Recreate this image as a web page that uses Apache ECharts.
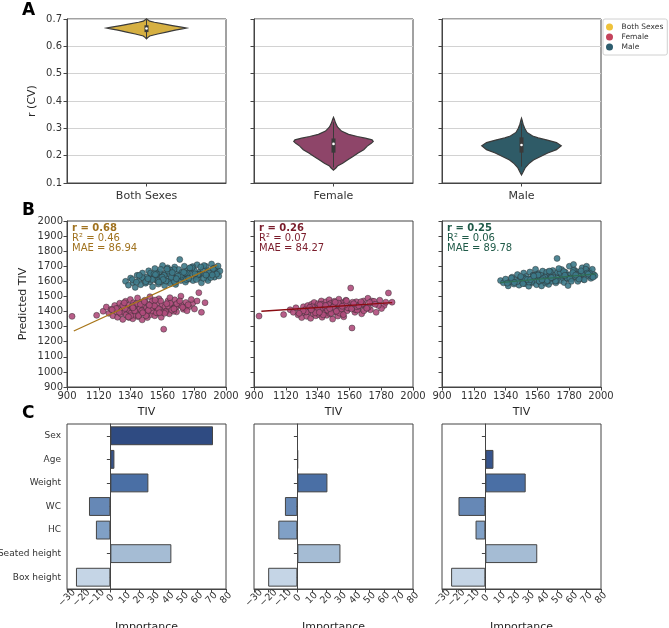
<!DOCTYPE html>
<html>
<head>
<meta charset="utf-8">
<title>TIV prediction</title>
<script src="https://cdn.jsdelivr.net/npm/echarts@6/dist/echarts.min.js"></script>
<style>
  html, body { margin: 0; padding: 0; background: #fff; }
  #chart { width: 669px; height: 628px; }
</style>
</head>
<body>
<div id="chart"></div>
<script>
// groups (columns)
const groups = ['Both Sexes', 'Female', 'Male']

// A - r (CV) violins: [r, relative width]
const violinBothSexes = [[0.627, 0], [0.632, 0.03], [0.638, 0.08], [0.645, 0.28], [0.652, 0.5], [0.659, 0.72], [0.664, 0.9], [0.667, 1.0], [0.670, 0.88], [0.676, 0.65], [0.682, 0.42], [0.688, 0.2], [0.692, 0.08], [0.697, 0.03], [0.701, 0]]
const violinFemale = [[0.147, 0], [0.155, 0.06], [0.162, 0.1], [0.172, 0.23], [0.185, 0.36], [0.196, 0.48], [0.210, 0.62], [0.222, 0.76], [0.235, 0.85], [0.245, 0.95], [0.252, 1.0], [0.258, 0.97], [0.264, 0.8], [0.270, 0.6], [0.278, 0.38], [0.290, 0.2], [0.305, 0.1], [0.320, 0.05], [0.333, 0.02], [0.340, 0]]
const violinMale = [[0.129, 0], [0.140, 0.04], [0.155, 0.09], [0.170, 0.18], [0.184, 0.3], [0.197, 0.48], [0.210, 0.66], [0.222, 0.88], [0.236, 1.0], [0.248, 0.88], [0.257, 0.65], [0.265, 0.42], [0.272, 0.28], [0.285, 0.14], [0.300, 0.08], [0.315, 0.04], [0.330, 0.015], [0.337, 0]]
// [whisker low, q1, median, q3, whisker high]
const violinBoxes = [
  [0.630, 0.652, 0.665, 0.677, 0.698],
  [0.157, 0.211, 0.243, 0.263, 0.322],
  [0.160, 0.211, 0.239, 0.267, 0.318]
]

// B - true TIV vs predicted TIV
const femaleTIV = [
  935, 1105, 1150, 1172, 1190, 1205, 1218, 1230, 1242, 1250,
  1258, 1265, 1272, 1280, 1286, 1292, 1298, 1305, 1310, 1316,
  1322, 1328, 1333, 1338, 1344, 1350, 1355, 1360, 1366, 1371,
  1376, 1382, 1388, 1393, 1398, 1404, 1410, 1415, 1420, 1426,
  1432, 1438, 1444, 1450, 1456, 1462, 1468, 1474, 1480, 1487,
  1494, 1500, 1507, 1514, 1521, 1528, 1536, 1544, 1552, 1560,
  1569, 1578, 1588, 1598, 1608, 1620, 1632, 1645, 1658, 1672,
  1688, 1705, 1722, 1745, 1770, 1800, 1812, 1830, 1855, 1782,
  1262, 1302, 1341, 1379, 1417, 1453, 1491, 1526, 1563, 1601,
  1638, 1676, 1715, 1286, 1325, 1368, 1408, 1447, 1484, 1518,
  1548, 1582, 1615, 1650, 1690, 1730, 1760, 1240, 1352, 1462,
  1532, 1575, 1612, 1660, 1700, 1395, 1435, 1505, 1540, 1625,
  1212, 1296, 1356, 1424, 1470, 1510, 1590, 1640, 1680, 1738
]
const femalePredBoth = [
  1368, 1375, 1402, 1430, 1388, 1415, 1372, 1440, 1398, 1362,
  1425, 1455, 1385, 1410, 1348, 1435, 1395, 1468, 1378, 1420,
  1442, 1360, 1405, 1480, 1390, 1428, 1352, 1458, 1412, 1375,
  1445, 1400, 1490, 1365, 1430, 1418, 1385, 1462, 1345, 1440,
  1408, 1475, 1392, 1425, 1360, 1450, 1415, 1498, 1380, 1438,
  1402, 1465, 1372, 1428, 1452, 1390, 1485, 1418, 1362, 1445,
  1283, 1432, 1405, 1470, 1385, 1448, 1420, 1478, 1398, 1440,
  1502, 1415, 1460, 1432, 1455, 1470, 1525, 1395, 1459, 1417,
  1395, 1420, 1372, 1452, 1405, 1382, 1470, 1412, 1395, 1436,
  1402, 1462, 1425, 1440, 1365, 1405, 1448, 1372, 1425, 1392,
  1470, 1398, 1455, 1428, 1442, 1405, 1480, 1420, 1438, 1408,
  1418, 1388, 1492, 1452, 1428, 1372, 1465, 1438, 1392, 1410,
  1412, 1458, 1425, 1392, 1442, 1476, 1452, 1418, 1470, 1445
]
const femalePredFemale = [
  1370, 1380, 1412, 1395, 1425, 1378, 1405, 1360, 1432, 1392,
  1415, 1368, 1440, 1398, 1420, 1355, 1448, 1402, 1385, 1460,
  1410, 1372, 1435, 1395, 1452, 1380, 1425, 1408, 1470, 1362,
  1418, 1445, 1390, 1428, 1465, 1375, 1440, 1402, 1478, 1385,
  1455, 1412, 1350, 1438, 1468, 1395, 1425, 1448, 1370, 1482,
  1415, 1442, 1398, 1460, 1365, 1432, 1475, 1405, 1450, 1422,
  1556, 1291, 1438, 1395, 1465, 1418, 1448, 1385, 1470, 1430,
  1488, 1412, 1455, 1395, 1475, 1440, 1462, 1523, 1462, 1420,
  1398, 1432, 1420, 1378, 1445, 1415, 1390, 1458, 1428, 1412,
  1442, 1420, 1470, 1428, 1392, 1448, 1410, 1430, 1455, 1380,
  1425, 1462, 1410, 1452, 1428, 1468, 1440, 1405, 1395, 1462,
  1445, 1418, 1432, 1405, 1460, 1440, 1388, 1418, 1472, 1438,
  1388, 1412, 1445, 1420, 1402, 1435, 1452, 1465, 1422, 1448
]
const maleTIV = [
  1305, 1325, 1340, 1358, 1372, 1385, 1398, 1410, 1422, 1433,
  1444, 1455, 1465, 1474, 1483, 1492, 1500, 1508, 1516, 1524,
  1532, 1540, 1547, 1554, 1561, 1568, 1575, 1582, 1589, 1596,
  1603, 1610, 1617, 1624, 1631, 1638, 1645, 1652, 1659, 1666,
  1673, 1680, 1688, 1696, 1704, 1712, 1720, 1728, 1736, 1745,
  1754, 1763, 1772, 1781, 1790, 1800, 1810, 1820, 1830, 1840,
  1850, 1860, 1870, 1880, 1890, 1900, 1910, 1920, 1930, 1940,
  1950, 1958, 1465, 1520, 1585, 1640, 1700, 1760, 1815, 1875,
  1420, 1478, 1530, 1572, 1612, 1650, 1692, 1732, 1770, 1808,
  1845, 1885, 1920, 1352, 1445, 1502, 1558, 1600, 1642, 1685,
  1725, 1765, 1805, 1848, 1895, 1935, 1490, 1548, 1622, 1718,
  1380, 1460, 1512, 1565, 1628, 1668, 1742, 1785, 1825, 1905,
  1400, 1535, 1592, 1656, 1708, 1750, 1795, 1862, 1912, 1945
]
const malePredBoth = [
  1600, 1575, 1622, 1590, 1560, 1640, 1605, 1578, 1655, 1615,
  1588, 1630, 1670, 1598, 1645, 1565, 1620, 1685, 1608, 1640,
  1582, 1662, 1625, 1598, 1705, 1640, 1572, 1655, 1618, 1690,
  1600, 1648, 1585, 1672, 1630, 1610, 1695, 1580, 1650, 1622,
  1678, 1745, 1605, 1660, 1635, 1700, 1595, 1668, 1642, 1615,
  1688, 1650, 1605, 1672, 1635, 1710, 1625, 1662, 1590, 1680,
  1645, 1700, 1618, 1672, 1640, 1715, 1655, 1628, 1690, 1660,
  1635, 1668, 1612, 1650, 1602, 1678, 1625, 1690, 1648, 1605,
  1625, 1655, 1605, 1640, 1675, 1595, 1632, 1655, 1698, 1642,
  1620, 1655, 1688, 1612, 1598, 1650, 1628, 1668, 1598, 1640,
  1612, 1690, 1645, 1705, 1625, 1648, 1612, 1680, 1628, 1655,
  1595, 1618, 1645, 1612, 1658, 1635, 1620, 1650, 1695, 1642,
  1640, 1595, 1682, 1618, 1660, 1690, 1612, 1642, 1685, 1702
]
const malePredMale = [
  1605, 1590, 1615, 1570, 1598, 1628, 1582, 1610, 1645, 1575,
  1620, 1598, 1655, 1585, 1632, 1608, 1568, 1662, 1615, 1590,
  1640, 1605, 1680, 1578, 1625, 1652, 1598, 1618, 1570, 1668,
  1610, 1635, 1588, 1660, 1612, 1580, 1648, 1625, 1600, 1672,
  1638, 1612, 1590, 1752, 1630, 1655, 1605, 1678, 1625, 1592,
  1660, 1640, 1572, 1700, 1645, 1618, 1712, 1632, 1665, 1600,
  1650, 1625, 1690, 1612, 1658, 1700, 1635, 1668, 1620, 1680,
  1645, 1638, 1622, 1598, 1640, 1612, 1660, 1628, 1675, 1650,
  1598, 1615, 1640, 1602, 1628, 1662, 1605, 1640, 1618, 1672,
  1635, 1610, 1655, 1588, 1632, 1595, 1645, 1620, 1668, 1602,
  1648, 1622, 1658, 1615, 1680, 1632, 1612, 1640, 1598, 1660,
  1622, 1585, 1612, 1642, 1605, 1628, 1665, 1618, 1642, 1655,
  1592, 1635, 1610, 1625, 1685, 1640, 1600, 1670, 1648, 1628
]
// regression fit end points [TIV, predicted]
const fitBoth = [[947, 1271], [1938, 1708]]
const fitFemale = [[951, 1402], [1856, 1459]]
const fitMale = [[1304, 1591], [1965, 1649]]
const statR = [0.68, 0.26, 0.25]
const statR2 = [0.46, 0.07, 0.06]
const statMAE = [86.94, 84.27, 89.78]

// C - feature importance
const features = ['Sex', 'Age', 'Weight', 'WC', 'HC', 'Seated height', 'Box height']
const importanceBoth = [71.0, 2.8, 26.3, -14.8, -10.0, 42.2, -23.8]
const importanceFemale = [null, 0.4, 20.8, -8.6, -13.2, 29.8, -20.2]
const importanceMale = [null, 5.6, 27.9, -18.6, -6.8, 35.9, -23.7]
const importanceTicks = [-30, -20, -10, 0, 10, 20, 30, 40, 50, 60, 70, 80]

// styling
const legendColors = ['#efc23a', '#c4435c', '#2d5d6e']
const violinColors = ['#d6b042', '#8e4569', '#2f5b67']
const textColors = ['#a0721f', '#7a1c2b', '#1f5a48']
const fitColors = ['#a8761a', '#8a0c12', '#2f6e55']
const featureColors = ['#2f4b82', '#36548c', '#4a6fa5', '#6688b6', '#80a0c6', '#a5bcd4', '#c5d5e6']
const femaleColor = '#b04c7c'
const maleColor = '#3d7a8a'
const ink = '#333'
const font = 'DejaVu Sans'

const colLeft = [67, 254, 442]
const colWidth = 159
const rows = [{ top: 19, height: 164 }, { top: 221, height: 166 }, { top: 424, height: 165 }]

const minus = v => String(v).replace('-', '\u2212')
const plain = v => String(v)

const grids = []
const xAxes = []
const yAxes = []
rows.forEach(row => {
  colLeft.forEach(left => {
    grids.push({
      left: left, top: row.top, width: colWidth, height: row.height, outerBoundsMode: 'none',
      show: true, borderColor: '#444', borderWidth: 1, backgroundColor: 'transparent'
    })
  })
})
// extra grid on top of C/first column that only carries the feature names
grids.push({ left: colLeft[0], top: rows[2].top, width: colWidth, height: rows[2].height, outerBoundsMode: 'none', show: false })

const tick = { show: true, length: 3.5, lineStyle: { color: '#444' }}
const line = { show: true, lineStyle: { color: '#444' }}
const lbl = { color: ink, fontSize: 10, fontFamily: font, showMinLabel: true, showMaxLabel: true, hideOverlap: false }
const nameStyle = { color: '#262626', fontSize: 11, fontFamily: font }

for (let c = 0; c < 3; c++) {
  // A
  xAxes.push({
    gridIndex: c, type: 'category', data: [groups[c]],
    axisLine: line, axisTick: Object.assign({ alignWithLabel: true }, tick),
    axisLabel: Object.assign({}, lbl, { fontSize: 11, margin: 8 })
  })
  yAxes.push({
    gridIndex: c, type: 'value', min: 0.1, max: 0.7, interval: 0.1,
    name: c === 0 ? 'r (CV)' : '', nameLocation: 'middle', nameGap: 29, nameTextStyle: nameStyle,
    axisLine: line, axisTick: tick,
    axisLabel: Object.assign({}, lbl, { show: c === 0, margin: 5, formatter: v => v.toFixed(1) }),
    splitLine: { show: true, lineStyle: { color: '#d2d2d2', width: 1 }}
  })
}
for (let c = 0; c < 3; c++) {
  // B
  xAxes.push({
    gridIndex: 3 + c, type: 'value', min: 900, max: 2000, interval: 220,
    name: 'TIV', nameLocation: 'middle', nameGap: 20, nameTextStyle: nameStyle,
    axisLine: line, axisTick: tick, splitLine: { show: false },
    axisLabel: Object.assign({}, lbl, { margin: 4, formatter: plain })
  })
  yAxes.push({
    gridIndex: 3 + c, type: 'value', min: 900, max: 2000, interval: 100,
    name: c === 0 ? 'Predicted TIV' : '', nameLocation: 'middle', nameGap: 38, nameTextStyle: nameStyle,
    axisLine: line, axisTick: tick, splitLine: { show: false },
    axisLabel: Object.assign({}, lbl, { show: c === 0, margin: 4, formatter: plain })
  })
}
for (let c = 0; c < 3; c++) {
  // C
  xAxes.push({
    gridIndex: 6 + c, type: 'value', min: -30, max: 80, interval: 10,
    name: 'Importance', nameLocation: 'middle', nameGap: 33, nameMoveOverlap: false, nameTextStyle: nameStyle,
    axisLine: line, axisTick: Object.assign({ customValues: importanceTicks }, tick), splitLine: { show: false },
    axisLabel: Object.assign({}, lbl, {
      customValues: importanceTicks, fontSize: 9.5, rotate: 45, align: 'center', verticalAlign: 'middle', margin: 9, formatter: minus
    })
  })
  yAxes.push({
    gridIndex: 6 + c, type: 'category', data: features, inverse: true,
    axisLine: line, axisTick: Object.assign({ alignWithLabel: true }, tick), splitLine: { show: false },
    axisLabel: { show: false }
  })
}
// feature names for panel C
xAxes.push({ gridIndex: 9, type: 'value', min: -30, max: 80, show: false })
yAxes.push({
  gridIndex: 9, type: 'category', data: features, inverse: true,
  axisLine: { show: false }, axisTick: { show: false }, splitLine: { show: false },
  axisLabel: Object.assign({}, lbl, { fontSize: 9, margin: 6 })
})

const violinProfiles = [violinBothSexes, violinFemale, violinMale]
function violinSeries(c) {
  return {
    name: groups[c],
    type: 'custom',
    xAxisIndex: c,
    yAxisIndex: c,
    itemStyle: { color: violinColors[c] },
    data: [[0]],
    renderItem: function(params, api) {
      const cx = api.coord([0, 0.4])[0]
      const half = api.size([1, 0])[0] * 0.25
      const prof = violinProfiles[c]
      const right = prof.map(p => [cx + p[1] * half, api.coord([0, p[0]])[1]])
      const left = prof.slice().reverse().map(p => [cx - p[1] * half, api.coord([0, p[0]])[1]])
      const box = violinBoxes[c]
      const yLo = api.coord([0, box[0]])[1]
      const yQ1 = api.coord([0, box[1]])[1]
      const yMed = api.coord([0, box[2]])[1]
      const yQ3 = api.coord([0, box[3]])[1]
      const yHi = api.coord([0, box[4]])[1]
      return {
        type: 'group',
        children: [
          {
            type: 'polygon',
            shape: { points: right.concat(left) },
            style: { fill: violinColors[c], stroke: '#3a3a3a', lineWidth: 1.2 }
          },
          {
            type: 'line',
            shape: { x1: cx, y1: yLo, x2: cx, y2: yHi },
            style: { stroke: '#3a3a3a', lineWidth: 1 }
          },
          {
            type: 'rect',
            shape: { x: cx - 2, y: yQ3, width: 4, height: yQ1 - yQ3 },
            style: { fill: '#3a3a3a' }
          },
          {
            type: 'circle',
            shape: { cx: cx, cy: yMed, r: 1.3 },
            style: { fill: '#fff' }
          }
        ]
      }
    }
  }
}

function scatterSeries(name, grid, xs, ys, color) {
  return {
    name: name,
    type: 'scatter',
    xAxisIndex: grid,
    yAxisIndex: grid,
    symbolSize: 6,
    z: 2,
    itemStyle: { color: color, borderColor: '#2a2a2a', borderWidth: 0.5, opacity: 0.9 },
    data: xs.map((x, i) => [x, ys[i]])
  }
}

function fitSeries(grid, pts, color) {
  return {
    name: 'fit' + grid,
    type: 'line',
    xAxisIndex: grid,
    yAxisIndex: grid,
    symbol: 'none',
    z: 4,
    lineStyle: { color: color, width: 1.3 },
    data: pts
  }
}

function barSeries(c, values) {
  return {
    name: 'importance' + c,
    type: 'bar',
    xAxisIndex: 6 + c,
    yAxisIndex: 6 + c,
    barWidth: '80%',
    data: values.map((v, i) => (v === null ? '-' : { value: v, itemStyle: { color: featureColors[i] }})),
    itemStyle: { borderColor: '#444', borderWidth: 1 }
  }
}

const graphics = [
  { type: 'text', left: 22, top: 2, style: { text: 'A', font: 'bold 17px ' + font, fill: '#000' }},
  { type: 'text', left: 22, top: 202, style: { text: 'B', font: 'bold 17px ' + font, fill: '#000' }},
  { type: 'text', left: 22, top: 405, style: { text: 'C', font: 'bold 17px ' + font, fill: '#000' }}
]
for (let c = 0; c < 3; c++) {
  const x = colLeft[c] + 5
  graphics.push({ type: 'text', left: x, top: 223, style: { text: 'r = ' + statR[c].toFixed(2), font: 'bold 10px ' + font, fill: textColors[c] }})
  graphics.push({ type: 'text', left: x, top: 233, style: { text: 'R\u00b2 = ' + statR2[c].toFixed(2), font: '10px ' + font, fill: textColors[c] }})
  graphics.push({ type: 'text', left: x, top: 243, style: { text: 'MAE = ' + statMAE[c].toFixed(2), font: '10px ' + font, fill: textColors[c] }})
}

const chart = echarts.init(document.getElementById('chart'))
chart.setOption({
  animation: false,
  backgroundColor: '#fff',
  textStyle: { fontFamily: font },
  grid: grids,
  xAxis: xAxes,
  yAxis: yAxes,
  legend: {
    left: 603,
    top: 19,
    orient: 'vertical',
    icon: 'circle',
    itemWidth: 14,
    itemHeight: 7,
    itemGap: 2,
    padding: [4, 4, 4, 3],
    borderColor: '#d0d0d0',
    borderWidth: 1,
    borderRadius: 2,
    textStyle: { fontSize: 7.5, color: ink, fontFamily: font },
    data: groups.map((g, i) => ({ name: g, itemStyle: { color: legendColors[i], borderWidth: 0 }}))
  },
  graphic: graphics,
  series: [
    violinSeries(0),
    violinSeries(1),
    violinSeries(2),
    scatterSeries('Male (both)', 3, maleTIV, malePredBoth, maleColor),
    scatterSeries('Female (both)', 3, femaleTIV, femalePredBoth, femaleColor),
    scatterSeries('Female (female)', 4, femaleTIV, femalePredFemale, femaleColor),
    scatterSeries('Male (male)', 5, maleTIV, malePredMale, maleColor),
    fitSeries(3, fitBoth, fitColors[0]),
    fitSeries(4, fitFemale, fitColors[1]),
    fitSeries(5, fitMale, fitColors[2]),
    barSeries(0, importanceBoth),
    barSeries(1, importanceFemale),
    barSeries(2, importanceMale)
  ]
})
window.addEventListener('resize', function() {
  chart.resize()
})
</script>
</body>
</html>
